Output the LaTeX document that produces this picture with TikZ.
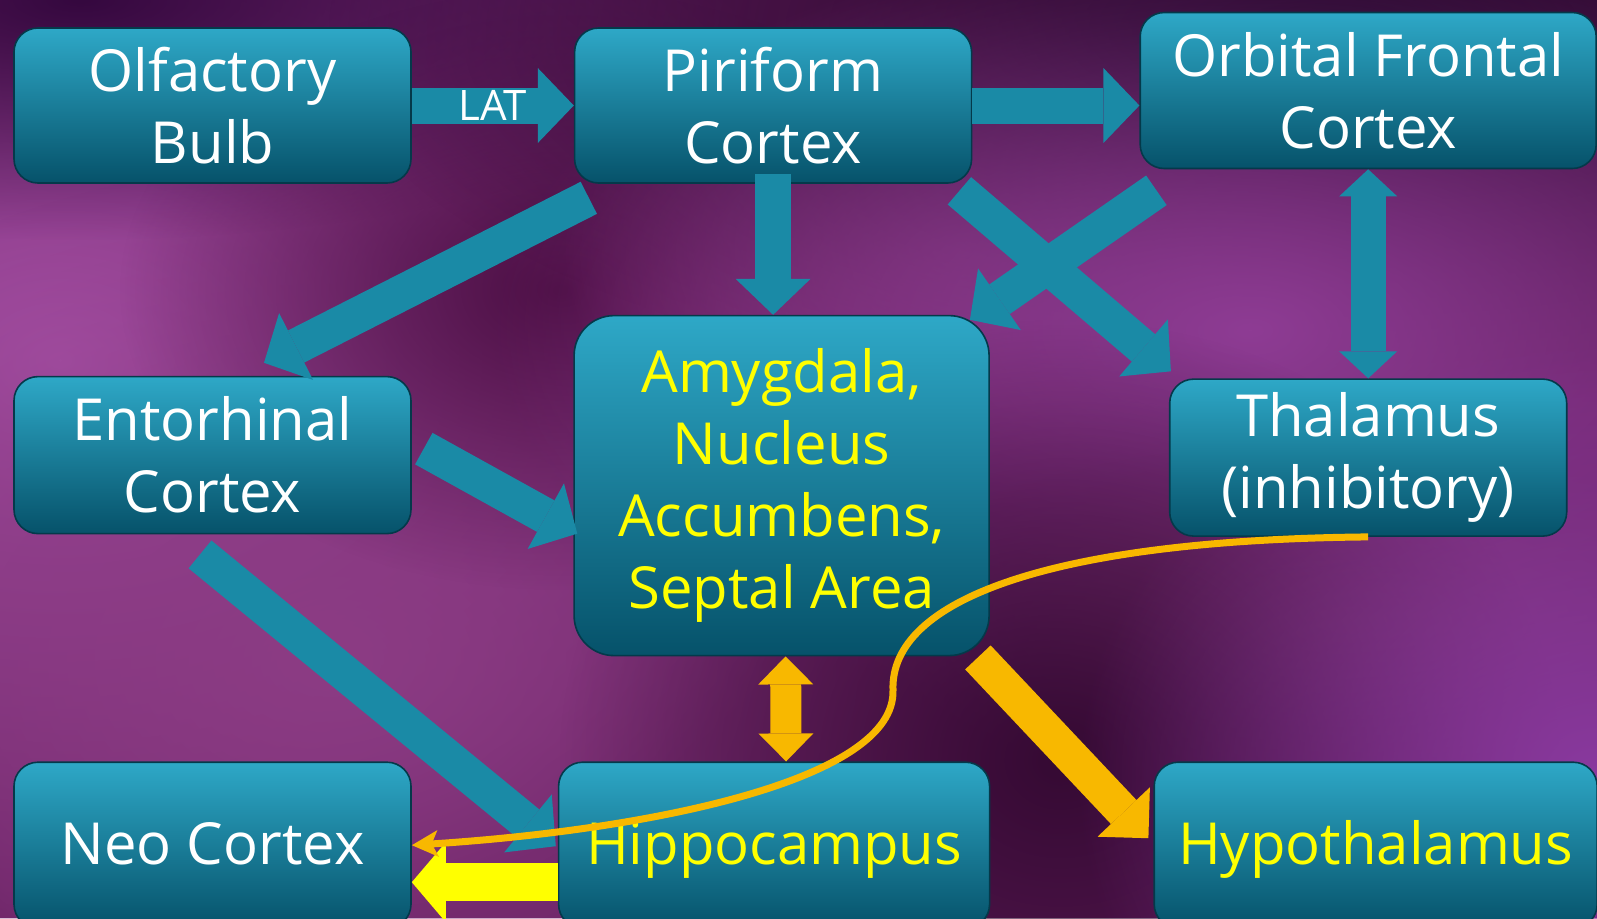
\documentclass[tikz,border=0pt]{standalone}
\usepackage{fontspec}
\setmainfont{Open Sans}
\usetikzlibrary{positioning,arrows.meta,fadings}
\definecolor{boxtop}{HTML}{2EA8C7}
\definecolor{boxmid}{HTML}{117F9A}
\definecolor{boxbot}{HTML}{06526A}
\definecolor{flowteal}{HTML}{1A8AA6}
\definecolor{gold}{HTML}{F8B800}
\definecolor{lemon}{HTML}{FFFF00}
\definecolor{bgbase}{HTML}{621C5C}
\definecolor{bgA}{HTML}{A650A6}
\definecolor{bgB}{HTML}{8C3C84}
\definecolor{bgC}{HTML}{35083F}
\definecolor{bgD}{HTML}{4C0F44}
\definecolor{bgE}{HTML}{8A3880}
\definecolor{bgF}{HTML}{1E0424}
\definecolor{bgG}{HTML}{8E3C94}
\definecolor{bgH}{HTML}{7A3272}
\definecolor{bgI}{HTML}{350A33}
\definecolor{bgJ}{HTML}{8A3AA0}
\tikzfading[name=blob, inner color=transparent!0, outer color=transparent!100]

\begin{document}
\begin{tikzpicture}[
  x=0.5pt, y=0.5pt,
  region/.style={draw=boxbot!70!black, line width=0.8pt, rounded corners=12pt,
    top color=boxtop, middle color=boxmid, bottom color=boxbot,
    minimum width=198.5pt, minimum height=77.5pt, inner sep=2pt,
    font=\fontsize{29}{36}\selectfont, text=white, align=center},
  hot/.style={text=lemon},
  low/.style={minimum height=83pt, text height=21pt, text depth=2pt},
  flow/.style={draw=flowteal, line width=18pt, -{Triangle[length=18pt, width=37.5pt, line width=0pt]}},
  both/.style={draw=flowteal, line width=17.5pt, {Triangle[length=13.5pt, width=29pt, line width=0pt]}-{Triangle[length=13.5pt, width=29pt, line width=0pt]}},
  warm/.style={draw=gold, line width=17.5pt, -{Triangle[length=18pt, width=36pt, line width=0pt]}},
  warmboth/.style={draw=gold, line width=15.5pt, {Triangle[length=14pt, width=27.5pt, line width=0pt]}-{Triangle[length=14pt, width=27.5pt, line width=0pt]}},
  bright/.style={draw=lemon, line width=19pt, -{Triangle[length=17pt, width=40pt, line width=0pt]}}
]
\clip (0,0) rectangle (1597,-918);
% background
\fill[bgbase] (0,0) rectangle (1597,-918);
\fill[bgA, path fading=blob] (60,-360) ellipse (840 and 600);
\fill[bgB, path fading=blob] (330,-660) ellipse (700 and 500);
\fill[bgC, path fading=blob] (80,0) ellipse (700 and 240);
\fill[bgD, path fading=blob] (560,-290) ellipse (440 and 300);
\fill[bgE, path fading=blob] (960,-250) ellipse (400 and 260);
\fill[bgF, path fading=blob] (1330,-30) ellipse (1000 and 380);
\fill[bgG, path fading=blob] (1250,-330) ellipse (760 and 400);
\fill[bgH, path fading=blob] (1350,-620) ellipse (500 and 180);
\fill[bgI, path fading=blob] (1060,-760) ellipse (500 and 440);
\fill[bgJ, path fading=blob] (1597,-780) ellipse (520 and 440);

% regions
\node[region] (olf) at (212.5,-105.5) {Olfactory\\Bulb};
\node[region, right=81pt of olf] (pir) {Piriform\\Cortex};
\node[region, right=83.5pt of pir, yshift=7.5pt, minimum width=228pt, minimum height=78pt] (ofc) {Orbital Frontal\\Cortex};
\node[region, below=96pt of olf, minimum height=78.5pt] (ent) {Entorhinal\\Cortex};
\node[region, hot, below=65.5pt of pir, xshift=4.25pt, minimum width=207.5pt, minimum height=170pt, rounded corners=20pt] (amy) {Amygdala,\\Nucleus\\Accumbens,\\Septal Area};
\node[region, below=104.5pt of ofc, minimum height=78.5pt] (thal) {Thalamus\\(inhibitory)};
\node[region, low, below=113.5pt of ent] (neo) {Neo Cortex};
\node[region, low, hot, right=73pt of neo, minimum width=215.5pt] (hip) {Hippocampus};
\node[region, low, hot, right=81.5pt of hip, minimum width=221.5pt] (hyp) {Hypothalamus};

% pathways
\draw[flow] (olf.east) -- node[text=white, font=\fontsize{21}{24}\selectfont] {LAT} (olf.east -| pir.west);
\draw[flow] (pir.east) -- (pir.east -| ofc.west);
\draw[flow] ([shift={(15,-14)}]pir.south west) -- ([shift={(51.5,13)}]ent.north);
\draw[flow] ([yshift=5pt]pir.south) -- (pir.south |- amy.north);
\draw[flow] ([shift={(-13,-7)}]pir.south east) -- ([shift={(2,7)}]thal.north west);
\draw[flow] ([shift={(17,-21)}]ofc.south west) -- ([shift={(-20,-5)}]amy.north east);
\draw[both] (ofc.south) -- (thal.north);
\draw[flow] ([shift={(12,6.5)}]ent.east) -- ([shift={(4,-48)}]amy.west);
\draw[flow] ([shift={(-12.5,-20)}]ent.south) -- ([shift={(-2,-1)}]hip.west);
\draw[warmboth] ([xshift=2pt]amy.south) -- ([xshift=6pt]hip.north);
\draw[warm] ([shift={(-12,-1)}]amy.south east) -- ([shift={(-5,7)}]hyp.west);
\draw[bright] ([yshift=-18.5pt]hip.west) -- ([yshift=-18.5pt]neo.east);
\coordinate (bend) at (893,-690);
\draw[gold, line width=3.5pt, -{Stealth[length=13pt, width=13pt, inset=3pt]}]
  (thal.south) .. controls (1050,-540) and (890,-600) .. (bend)
  .. controls (896,-780) and (650,-830) .. (neo.east);
\end{tikzpicture}
\end{document}
